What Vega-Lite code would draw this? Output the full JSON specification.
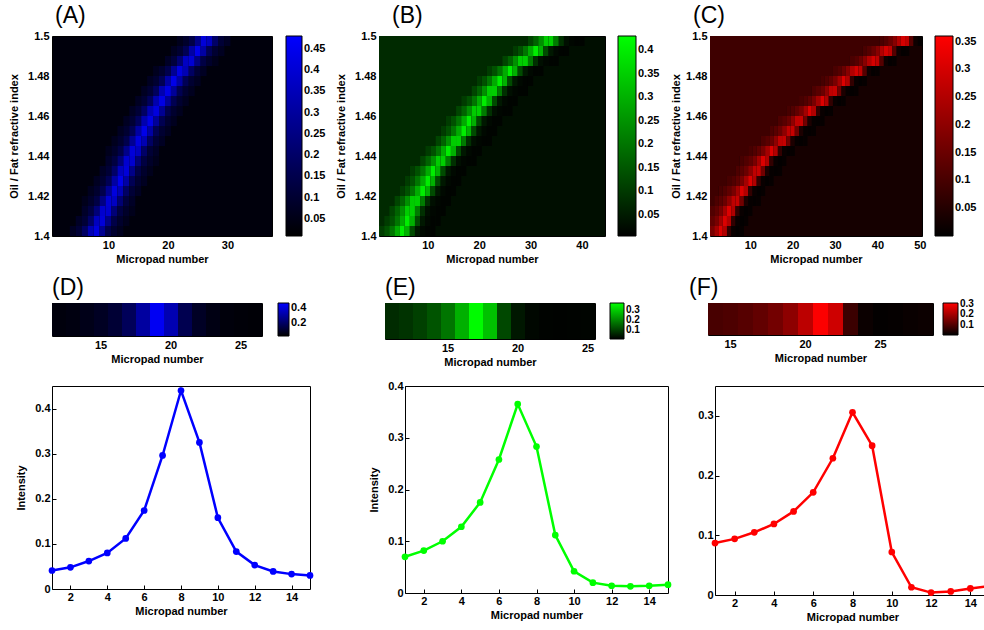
{
  "$schema": "https://vega.github.io/schema/vega-lite/v6.json",
  "padding": {"left": 8, "top": 4, "right": 0, "bottom": 0},
  "background": "white",
  "datasets": {
    "A": [
      {"y": 1.400, "y2": 1.405, "x": [3.5,4.5,5.5,6.5,7.5,8.5,9.5,10.5,11.5], "x2": [4.5,5.5,6.5,7.5,8.5,9.5,10.5,11.5,12.5], "v": [0.075,0.11,0.19,0.34,0.42,0.28,0.15,0.095,0.065]},
      {"y": 1.405, "y2": 1.410, "x": [4.5,5.5,6.5,7.5,8.5,9.5,10.5,11.5,12.5], "x2": [5.5,6.5,7.5,8.5,9.5,10.5,11.5,12.5,13.5], "v": [0.078,0.11,0.2,0.36,0.41,0.26,0.14,0.092,0.062]},
      {"y": 1.410, "y2": 1.415, "x": [5.5,6.5,7.5,8.5,9.5,10.5,11.5,12.5,13.5], "x2": [6.5,7.5,8.5,9.5,10.5,11.5,12.5,13.5,14.5], "v": [0.085,0.13,0.23,0.39,0.39,0.23,0.13,0.085,0.06]},
      {"y": 1.415, "y2": 1.420, "x": [5.5,6.5,7.5,8.5,9.5,10.5,11.5,12.5,13.5], "x2": [6.5,7.5,8.5,9.5,10.5,11.5,12.5,13.5,14.5], "v": [0.06,0.09,0.135,0.25,0.4,0.37,0.22,0.12,0.08]},
      {"y": 1.420, "y2": 1.425, "x": [6.5,7.5,8.5,9.5,10.5,11.5,12.5,13.5,14.5], "x2": [7.5,8.5,9.5,10.5,11.5,12.5,13.5,14.5,15.5], "v": [0.065,0.095,0.15,0.28,0.42,0.34,0.19,0.11,0.075]},
      {"y": 1.425, "y2": 1.430, "x": [7.5,8.5,9.5,10.5,11.5,12.5,13.5,14.5,15.5], "x2": [8.5,9.5,10.5,11.5,12.5,13.5,14.5,15.5,16.5], "v": [0.07,0.1,0.165,0.31,0.44,0.31,0.165,0.1,0.07]},
      {"y": 1.430, "y2": 1.435, "x": [8.5,9.5,10.5,11.5,12.5,13.5,14.5,15.5,16.5], "x2": [9.5,10.5,11.5,12.5,13.5,14.5,15.5,16.5,17.5], "v": [0.078,0.11,0.2,0.36,0.41,0.26,0.14,0.092,0.062]},
      {"y": 1.435, "y2": 1.440, "x": [9.5,10.5,11.5,12.5,13.5,14.5,15.5,16.5,17.5], "x2": [10.5,11.5,12.5,13.5,14.5,15.5,16.5,17.5,18.5], "v": [0.085,0.13,0.23,0.39,0.39,0.23,0.13,0.085,0.06]},
      {"y": 1.440, "y2": 1.445, "x": [9.5,10.5,11.5,12.5,13.5,14.5,15.5,16.5,17.5], "x2": [10.5,11.5,12.5,13.5,14.5,15.5,16.5,17.5,18.5], "v": [0.062,0.092,0.14,0.26,0.41,0.36,0.2,0.11,0.078]},
      {"y": 1.445, "y2": 1.450, "x": [10.5,11.5,12.5,13.5,14.5,15.5,16.5,17.5,18.5], "x2": [11.5,12.5,13.5,14.5,15.5,16.5,17.5,18.5,19.5], "v": [0.065,0.095,0.15,0.28,0.42,0.34,0.19,0.11,0.075]},
      {"y": 1.450, "y2": 1.455, "x": [11.5,12.5,13.5,14.5,15.5,16.5,17.5,18.5,19.5], "x2": [12.5,13.5,14.5,15.5,16.5,17.5,18.5,19.5,20.5], "v": [0.07,0.1,0.165,0.31,0.44,0.31,0.165,0.1,0.07]},
      {"y": 1.455, "y2": 1.460, "x": [12.5,13.5,14.5,15.5,16.5,17.5,18.5,19.5,20.5], "x2": [13.5,14.5,15.5,16.5,17.5,18.5,19.5,20.5,21.5], "v": [0.072,0.105,0.18,0.33,0.43,0.29,0.16,0.098,0.068]},
      {"y": 1.460, "y2": 1.465, "x": [13.5,14.5,15.5,16.5,17.5,18.5,19.5,20.5,21.5], "x2": [14.5,15.5,16.5,17.5,18.5,19.5,20.5,21.5,22.5], "v": [0.075,0.11,0.19,0.34,0.42,0.28,0.15,0.095,0.065]},
      {"y": 1.465, "y2": 1.470, "x": [14.5,15.5,16.5,17.5,18.5,19.5,20.5,21.5,22.5], "x2": [15.5,16.5,17.5,18.5,19.5,20.5,21.5,22.5,23.5], "v": [0.072,0.105,0.18,0.33,0.43,0.29,0.16,0.098,0.068]},
      {"y": 1.470, "y2": 1.475, "x": [15.5,16.5,17.5,18.5,19.5,20.5,21.5,22.5,23.5], "x2": [16.5,17.5,18.5,19.5,20.5,21.5,22.5,23.5,24.5], "v": [0.072,0.105,0.18,0.33,0.43,0.29,0.16,0.098,0.068]},
      {"y": 1.475, "y2": 1.480, "x": [16.5,17.5,18.5,19.5,20.5,21.5,22.5,23.5,24.5], "x2": [17.5,18.5,19.5,20.5,21.5,22.5,23.5,24.5,25.5], "v": [0.07,0.1,0.165,0.31,0.44,0.31,0.165,0.1,0.07]},
      {"y": 1.480, "y2": 1.485, "x": [17.5,18.5,19.5,20.5,21.5,22.5,23.5,24.5,25.5], "x2": [18.5,19.5,20.5,21.5,22.5,23.5,24.5,25.5,26.5], "v": [0.065,0.095,0.15,0.28,0.42,0.34,0.19,0.11,0.075]},
      {"y": 1.485, "y2": 1.490, "x": [19.5,20.5,21.5,22.5,23.5,24.5,25.5,26.5,27.5], "x2": [20.5,21.5,22.5,23.5,24.5,25.5,26.5,27.5,28.5], "v": [0.08,0.12,0.22,0.37,0.4,0.25,0.135,0.09,0.06]},
      {"y": 1.490, "y2": 1.495, "x": [20.5,21.5,22.5,23.5,24.5,25.5,26.5,27.5,28.5], "x2": [21.5,22.5,23.5,24.5,25.5,26.5,27.5,28.5,29.5], "v": [0.07,0.1,0.165,0.31,0.44,0.31,0.165,0.1,0.07]},
      {"y": 1.495, "y2": 1.500, "x": [21.5,22.5,23.5,24.5,25.5,26.5,27.5,28.5,29.5], "x2": [22.5,23.5,24.5,25.5,26.5,27.5,28.5,29.5,30.5], "v": [0.062,0.092,0.14,0.26,0.41,0.36,0.2,0.11,0.078]}
    ],
    "B": [
      {"y": 1.400, "y2": 1.405, "x": [0.5,1.5,2.5,3.5,4.5,5.5,6.5,7.5,8.5,9.5,10.5], "x2": [1.5,2.5,3.5,4.5,5.5,6.5,7.5,8.5,9.5,10.5,11.5], "v": [0.105,0.14,0.2,0.29,0.4,0.3,0.13,0.045,0.02,0.012,0.012]},
      {"y": 1.405, "y2": 1.410, "x": [0.5,1.5,2.5,3.5,4.5,5.5,6.5,7.5,8.5,9.5,10.5,11.5], "x2": [1.5,2.5,3.5,4.5,5.5,6.5,7.5,8.5,9.5,10.5,11.5,12.5], "v": [0.075,0.105,0.14,0.2,0.29,0.4,0.3,0.13,0.045,0.02,0.012,0.012]},
      {"y": 1.410, "y2": 1.415, "x": [0.5,2.5,3.5,4.5,5.5,6.5,7.5,8.5,9.5,10.5,11.5,12.5], "x2": [2.5,3.5,4.5,5.5,6.5,7.5,8.5,9.5,10.5,11.5,12.5,13.5], "v": [0.075,0.12,0.17,0.245,0.345,0.35,0.21,0.085,0.03,0.016,0.012,0.012]},
      {"y": 1.415, "y2": 1.420, "x": [0.5,3.5,4.5,5.5,6.5,7.5,8.5,9.5,10.5,11.5,12.5,13.5], "x2": [3.5,4.5,5.5,6.5,7.5,8.5,9.5,10.5,11.5,12.5,13.5,14.5], "v": [0.075,0.12,0.17,0.245,0.345,0.35,0.21,0.085,0.03,0.016,0.012,0.012]},
      {"y": 1.420, "y2": 1.425, "x": [0.5,4.5,5.5,6.5,7.5,8.5,9.5,10.5,11.5,12.5,13.5,14.5], "x2": [4.5,5.5,6.5,7.5,8.5,9.5,10.5,11.5,12.5,13.5,14.5,15.5], "v": [0.075,0.105,0.14,0.2,0.29,0.4,0.3,0.13,0.045,0.02,0.012,0.012]},
      {"y": 1.425, "y2": 1.430, "x": [0.5,5.5,6.5,7.5,8.5,9.5,10.5,11.5,12.5,13.5,14.5,15.5], "x2": [5.5,6.5,7.5,8.5,9.5,10.5,11.5,12.5,13.5,14.5,15.5,16.5], "v": [0.075,0.105,0.14,0.2,0.29,0.4,0.3,0.13,0.045,0.02,0.012,0.012]},
      {"y": 1.430, "y2": 1.435, "x": [0.5,6.5,7.5,8.5,9.5,10.5,11.5,12.5,13.5,14.5,15.5,16.5], "x2": [6.5,7.5,8.5,9.5,10.5,11.5,12.5,13.5,14.5,15.5,16.5,17.5], "v": [0.075,0.105,0.14,0.2,0.29,0.4,0.3,0.13,0.045,0.02,0.012,0.012]},
      {"y": 1.435, "y2": 1.440, "x": [0.5,8.5,9.5,10.5,11.5,12.5,13.5,14.5,15.5,16.5,17.5,18.5], "x2": [8.5,9.5,10.5,11.5,12.5,13.5,14.5,15.5,16.5,17.5,18.5,19.5], "v": [0.075,0.12,0.17,0.245,0.345,0.35,0.21,0.085,0.03,0.016,0.012,0.012]},
      {"y": 1.440, "y2": 1.445, "x": [0.5,9.5,10.5,11.5,12.5,13.5,14.5,15.5,16.5,17.5,18.5,19.5], "x2": [9.5,10.5,11.5,12.5,13.5,14.5,15.5,16.5,17.5,18.5,19.5,20.5], "v": [0.075,0.105,0.14,0.2,0.29,0.4,0.3,0.13,0.045,0.02,0.012,0.012]},
      {"y": 1.445, "y2": 1.450, "x": [0.5,11.5,12.5,13.5,14.5,15.5,16.5,17.5,18.5,19.5,20.5,21.5], "x2": [11.5,12.5,13.5,14.5,15.5,16.5,17.5,18.5,19.5,20.5,21.5,22.5], "v": [0.075,0.12,0.17,0.245,0.345,0.35,0.21,0.085,0.03,0.016,0.012,0.012]},
      {"y": 1.450, "y2": 1.455, "x": [0.5,12.5,13.5,14.5,15.5,16.5,17.5,18.5,19.5,20.5,21.5,22.5], "x2": [12.5,13.5,14.5,15.5,16.5,17.5,18.5,19.5,20.5,21.5,22.5,23.5], "v": [0.075,0.105,0.14,0.2,0.29,0.4,0.3,0.13,0.045,0.02,0.012,0.012]},
      {"y": 1.455, "y2": 1.460, "x": [0.5,13.5,14.5,15.5,16.5,17.5,18.5,19.5,20.5,21.5,22.5,23.5], "x2": [13.5,14.5,15.5,16.5,17.5,18.5,19.5,20.5,21.5,22.5,23.5,24.5], "v": [0.075,0.105,0.14,0.2,0.29,0.4,0.3,0.13,0.045,0.02,0.012,0.012]},
      {"y": 1.460, "y2": 1.465, "x": [0.5,15.5,16.5,17.5,18.5,19.5,20.5,21.5,22.5,23.5,24.5,25.5], "x2": [15.5,16.5,17.5,18.5,19.5,20.5,21.5,22.5,23.5,24.5,25.5,26.5], "v": [0.075,0.12,0.17,0.245,0.345,0.35,0.21,0.085,0.03,0.016,0.012,0.012]},
      {"y": 1.465, "y2": 1.470, "x": [0.5,16.5,17.5,18.5,19.5,20.5,21.5,22.5,23.5,24.5,25.5,26.5], "x2": [16.5,17.5,18.5,19.5,20.5,21.5,22.5,23.5,24.5,25.5,26.5,27.5], "v": [0.075,0.105,0.14,0.2,0.29,0.4,0.3,0.13,0.045,0.02,0.012,0.012]},
      {"y": 1.470, "y2": 1.475, "x": [0.5,18.5,19.5,20.5,21.5,22.5,23.5,24.5,25.5,26.5,27.5,28.5], "x2": [18.5,19.5,20.5,21.5,22.5,23.5,24.5,25.5,26.5,27.5,28.5,29.5], "v": [0.075,0.12,0.17,0.245,0.345,0.35,0.21,0.085,0.03,0.016,0.012,0.012]},
      {"y": 1.475, "y2": 1.480, "x": [0.5,19.5,20.5,21.5,22.5,23.5,24.5,25.5,26.5,27.5,28.5,29.5], "x2": [19.5,20.5,21.5,22.5,23.5,24.5,25.5,26.5,27.5,28.5,29.5,30.5], "v": [0.075,0.105,0.14,0.2,0.29,0.4,0.3,0.13,0.045,0.02,0.012,0.012]},
      {"y": 1.480, "y2": 1.485, "x": [0.5,21.5,22.5,23.5,24.5,25.5,26.5,27.5,28.5,29.5,30.5,31.5], "x2": [21.5,22.5,23.5,24.5,25.5,26.5,27.5,28.5,29.5,30.5,31.5,32.5], "v": [0.075,0.105,0.14,0.2,0.29,0.4,0.3,0.13,0.045,0.02,0.012,0.012]},
      {"y": 1.485, "y2": 1.490, "x": [0.5,24.5,25.5,26.5,27.5,28.5,29.5,30.5,31.5,32.5,33.5,34.5], "x2": [24.5,25.5,26.5,27.5,28.5,29.5,30.5,31.5,32.5,33.5,34.5,35.5], "v": [0.075,0.12,0.17,0.245,0.345,0.35,0.21,0.085,0.03,0.016,0.012,0.012]},
      {"y": 1.490, "y2": 1.495, "x": [0.5,26.5,27.5,28.5,29.5,30.5,31.5,32.5,33.5,34.5,35.5,36.5], "x2": [26.5,27.5,28.5,29.5,30.5,31.5,32.5,33.5,34.5,35.5,36.5,37.5], "v": [0.075,0.105,0.14,0.2,0.29,0.4,0.3,0.13,0.045,0.02,0.012,0.012]},
      {"y": 1.495, "y2": 1.500, "x": [0.5,29.5,30.5,31.5,32.5,33.5,34.5,35.5,36.5,37.5,38.5,39.5], "x2": [29.5,30.5,31.5,32.5,33.5,34.5,35.5,36.5,37.5,38.5,39.5,40.5], "v": [0.075,0.12,0.17,0.245,0.345,0.35,0.21,0.085,0.03,0.016,0.012,0.012]}
    ],
    "C": [
      {"y": 1.400, "y2": 1.405, "x": [-2.5,-1.5,-0.5,0.5,1.5,2.5,3.5,4.5,5.5,6.5,7.5], "x2": [-1.5,-0.5,0.5,1.5,2.5,3.5,4.5,5.5,6.5,7.5,8.5], "v": [0.1,0.115,0.135,0.17,0.23,0.31,0.25,0.07,0.013,0.004,0.008]},
      {"y": 1.405, "y2": 1.410, "x": [-1.5,-0.5,0.5,1.5,2.5,3.5,4.5,5.5,6.5,7.5,8.5], "x2": [-0.5,0.5,1.5,2.5,3.5,4.5,5.5,6.5,7.5,8.5,9.5], "v": [0.1,0.115,0.135,0.17,0.23,0.31,0.25,0.07,0.013,0.004,0.008]},
      {"y": 1.410, "y2": 1.415, "x": [-0.5,0.5,1.5,2.5,3.5,4.5,5.5,6.5,7.5,8.5,9.5], "x2": [0.5,1.5,2.5,3.5,4.5,5.5,6.5,7.5,8.5,9.5,10.5], "v": [0.1,0.115,0.135,0.17,0.23,0.31,0.25,0.07,0.013,0.004,0.008]},
      {"y": 1.415, "y2": 1.420, "x": [0.5,1.5,2.5,3.5,4.5,5.5,6.5,7.5,8.5,9.5,10.5,11.5], "x2": [1.5,2.5,3.5,4.5,5.5,6.5,7.5,8.5,9.5,10.5,11.5,12.5], "v": [0.088,0.108,0.125,0.15,0.2,0.27,0.28,0.16,0.04,0.008,0.005,0.008]},
      {"y": 1.420, "y2": 1.425, "x": [0.5,2.5,3.5,4.5,5.5,6.5,7.5,8.5,9.5,10.5,11.5,12.5], "x2": [2.5,3.5,4.5,5.5,6.5,7.5,8.5,9.5,10.5,11.5,12.5,13.5], "v": [0.088,0.1,0.115,0.135,0.17,0.23,0.31,0.25,0.07,0.013,0.004,0.008]},
      {"y": 1.425, "y2": 1.430, "x": [0.5,4.5,5.5,6.5,7.5,8.5,9.5,10.5,11.5,12.5,13.5,14.5], "x2": [4.5,5.5,6.5,7.5,8.5,9.5,10.5,11.5,12.5,13.5,14.5,15.5], "v": [0.088,0.1,0.115,0.135,0.17,0.23,0.31,0.25,0.07,0.013,0.004,0.008]},
      {"y": 1.430, "y2": 1.435, "x": [0.5,6.5,7.5,8.5,9.5,10.5,11.5,12.5,13.5,14.5,15.5,16.5], "x2": [6.5,7.5,8.5,9.5,10.5,11.5,12.5,13.5,14.5,15.5,16.5,17.5], "v": [0.088,0.108,0.125,0.15,0.2,0.27,0.28,0.16,0.04,0.008,0.005,0.008]},
      {"y": 1.435, "y2": 1.440, "x": [0.5,7.5,8.5,9.5,10.5,11.5,12.5,13.5,14.5,15.5,16.5,17.5], "x2": [7.5,8.5,9.5,10.5,11.5,12.5,13.5,14.5,15.5,16.5,17.5,18.5], "v": [0.088,0.1,0.115,0.135,0.17,0.23,0.31,0.25,0.07,0.013,0.004,0.008]},
      {"y": 1.440, "y2": 1.445, "x": [0.5,9.5,10.5,11.5,12.5,13.5,14.5,15.5,16.5,17.5,18.5,19.5], "x2": [9.5,10.5,11.5,12.5,13.5,14.5,15.5,16.5,17.5,18.5,19.5,20.5], "v": [0.088,0.1,0.115,0.135,0.17,0.23,0.31,0.25,0.07,0.013,0.004,0.008]},
      {"y": 1.445, "y2": 1.450, "x": [0.5,12.5,13.5,14.5,15.5,16.5,17.5,18.5,19.5,20.5,21.5,22.5], "x2": [12.5,13.5,14.5,15.5,16.5,17.5,18.5,19.5,20.5,21.5,22.5,23.5], "v": [0.088,0.108,0.125,0.15,0.2,0.27,0.28,0.16,0.04,0.008,0.005,0.008]},
      {"y": 1.450, "y2": 1.455, "x": [0.5,14.5,15.5,16.5,17.5,18.5,19.5,20.5,21.5,22.5,23.5,24.5], "x2": [14.5,15.5,16.5,17.5,18.5,19.5,20.5,21.5,22.5,23.5,24.5,25.5], "v": [0.088,0.108,0.125,0.15,0.2,0.27,0.28,0.16,0.04,0.008,0.005,0.008]},
      {"y": 1.455, "y2": 1.460, "x": [0.5,16.5,17.5,18.5,19.5,20.5,21.5,22.5,23.5,24.5,25.5,26.5], "x2": [16.5,17.5,18.5,19.5,20.5,21.5,22.5,23.5,24.5,25.5,26.5,27.5], "v": [0.088,0.108,0.125,0.15,0.2,0.27,0.28,0.16,0.04,0.008,0.005,0.008]},
      {"y": 1.460, "y2": 1.465, "x": [0.5,18.5,19.5,20.5,21.5,22.5,23.5,24.5,25.5,26.5,27.5,28.5], "x2": [18.5,19.5,20.5,21.5,22.5,23.5,24.5,25.5,26.5,27.5,28.5,29.5], "v": [0.088,0.1,0.115,0.135,0.17,0.23,0.31,0.25,0.07,0.013,0.004,0.008]},
      {"y": 1.465, "y2": 1.470, "x": [0.5,21.5,22.5,23.5,24.5,25.5,26.5,27.5,28.5,29.5,30.5,31.5], "x2": [21.5,22.5,23.5,24.5,25.5,26.5,27.5,28.5,29.5,30.5,31.5,32.5], "v": [0.088,0.1,0.115,0.135,0.17,0.23,0.31,0.25,0.07,0.013,0.004,0.008]},
      {"y": 1.470, "y2": 1.475, "x": [0.5,24.5,25.5,26.5,27.5,28.5,29.5,30.5,31.5,32.5,33.5,34.5], "x2": [24.5,25.5,26.5,27.5,28.5,29.5,30.5,31.5,32.5,33.5,34.5,35.5], "v": [0.088,0.108,0.125,0.15,0.2,0.27,0.28,0.16,0.04,0.008,0.005,0.008]},
      {"y": 1.475, "y2": 1.480, "x": [0.5,26.5,27.5,28.5,29.5,30.5,31.5,32.5,33.5,34.5,35.5,36.5], "x2": [26.5,27.5,28.5,29.5,30.5,31.5,32.5,33.5,34.5,35.5,36.5,37.5], "v": [0.088,0.1,0.115,0.135,0.17,0.23,0.31,0.25,0.07,0.013,0.004,0.008]},
      {"y": 1.480, "y2": 1.485, "x": [0.5,29.5,30.5,31.5,32.5,33.5,34.5,35.5,36.5,37.5,38.5,39.5], "x2": [29.5,30.5,31.5,32.5,33.5,34.5,35.5,36.5,37.5,38.5,39.5,40.5], "v": [0.088,0.105,0.12,0.15,0.19,0.25,0.3,0.27,0.12,0.02,0.005,0.008]},
      {"y": 1.485, "y2": 1.490, "x": [0.5,33.5,34.5,35.5,36.5,37.5,38.5,39.5,40.5,41.5,42.5,43.5], "x2": [33.5,34.5,35.5,36.5,37.5,38.5,39.5,40.5,41.5,42.5,43.5,44.5], "v": [0.088,0.105,0.12,0.15,0.19,0.25,0.3,0.27,0.12,0.02,0.005,0.008]},
      {"y": 1.490, "y2": 1.495, "x": [0.5,36.5,37.5,38.5,39.5,40.5,41.5,42.5,43.5,44.5,45.5,46.5], "x2": [36.5,37.5,38.5,39.5,40.5,41.5,42.5,43.5,44.5,45.5,46.5,47.5], "v": [0.088,0.105,0.12,0.15,0.19,0.25,0.3,0.27,0.12,0.02,0.005,0.008]},
      {"y": 1.495, "y2": 1.500, "x": [0.5,40.5,41.5,42.5,43.5,44.5,45.5,46.5,47.5,48.5,49.5,50.5], "x2": [40.5,41.5,42.5,43.5,44.5,45.5,46.5,47.5,48.5,49.5,50.5,51.5], "v": [0.088,0.105,0.12,0.15,0.19,0.25,0.3,0.27,0.12,0.02,0.005,0.008]}
    ],
    "L": [
      {"panel": "D", "n": 1, "pad": 12, "v": 0.041},
      {"panel": "D", "n": 2, "pad": 13, "v": 0.048},
      {"panel": "D", "n": 3, "pad": 14, "v": 0.062},
      {"panel": "D", "n": 4, "pad": 15, "v": 0.080},
      {"panel": "D", "n": 5, "pad": 16, "v": 0.112},
      {"panel": "D", "n": 6, "pad": 17, "v": 0.174},
      {"panel": "D", "n": 7, "pad": 18, "v": 0.296},
      {"panel": "D", "n": 8, "pad": 19, "v": 0.440},
      {"panel": "D", "n": 9, "pad": 20, "v": 0.325},
      {"panel": "D", "n": 10, "pad": 21, "v": 0.158},
      {"panel": "D", "n": 11, "pad": 22, "v": 0.083},
      {"panel": "D", "n": 12, "pad": 23, "v": 0.053},
      {"panel": "D", "n": 13, "pad": 24, "v": 0.039},
      {"panel": "D", "n": 14, "pad": 25, "v": 0.033},
      {"panel": "D", "n": 15, "pad": 26, "v": 0.030},
      {"panel": "E", "n": 1, "pad": 11, "v": 0.070},
      {"panel": "E", "n": 2, "pad": 12, "v": 0.082},
      {"panel": "E", "n": 3, "pad": 13, "v": 0.100},
      {"panel": "E", "n": 4, "pad": 14, "v": 0.128},
      {"panel": "E", "n": 5, "pad": 15, "v": 0.175},
      {"panel": "E", "n": 6, "pad": 16, "v": 0.258},
      {"panel": "E", "n": 7, "pad": 17, "v": 0.365},
      {"panel": "E", "n": 8, "pad": 18, "v": 0.283},
      {"panel": "E", "n": 9, "pad": 19, "v": 0.112},
      {"panel": "E", "n": 10, "pad": 20, "v": 0.042},
      {"panel": "E", "n": 11, "pad": 21, "v": 0.020},
      {"panel": "E", "n": 12, "pad": 22, "v": 0.014},
      {"panel": "E", "n": 13, "pad": 23, "v": 0.013},
      {"panel": "E", "n": 14, "pad": 24, "v": 0.014},
      {"panel": "E", "n": 15, "pad": 25, "v": 0.016},
      {"panel": "F", "n": 1, "pad": 14, "v": 0.087},
      {"panel": "F", "n": 2, "pad": 15, "v": 0.094},
      {"panel": "F", "n": 3, "pad": 16, "v": 0.105},
      {"panel": "F", "n": 4, "pad": 17, "v": 0.119},
      {"panel": "F", "n": 5, "pad": 18, "v": 0.140},
      {"panel": "F", "n": 6, "pad": 19, "v": 0.172},
      {"panel": "F", "n": 7, "pad": 20, "v": 0.229},
      {"panel": "F", "n": 8, "pad": 21, "v": 0.306},
      {"panel": "F", "n": 9, "pad": 22, "v": 0.250},
      {"panel": "F", "n": 10, "pad": 23, "v": 0.072},
      {"panel": "F", "n": 11, "pad": 24, "v": 0.013},
      {"panel": "F", "n": 12, "pad": 25, "v": 0.004},
      {"panel": "F", "n": 13, "pad": 26, "v": 0.006},
      {"panel": "F", "n": 14, "pad": 27, "v": 0.011},
      {"panel": "F", "n": 15, "pad": 28, "v": 0.015}
    ]
  },
  "config": {
    "font": "Liberation Sans",
    "view": {"stroke": "#000000", "strokeWidth": 1},
    "axis": {
      "labelFont": "Liberation Sans", "labelFontSize": 11, "labelFontWeight": "bold", "labelColor": "#000000",
      "titleFont": "Liberation Sans", "titleFontSize": 11, "titleFontWeight": "bold", "titleColor": "#000000",
      "domain": false, "grid": false, "tickColor": "#000000", "tickSize": -4, "labelPadding": 6, "titlePadding": 3
    },
    "axisY": {"titlePadding": 8},
    "legend": {
      "padding": 0, "labelFont": "Liberation Sans", "labelFontSize": 11, "labelFontWeight": "bold", "labelColor": "#000000",
      "gradientStrokeColor": "#000000", "gradientStrokeWidth": 1, "labelOverlap": false, "labelOffset": 3
    },
    "title": {"font": "Liberation Sans", "fontSize": 23, "fontWeight": "normal", "anchor": "start", "frame": "group", "offset": 2, "color": "#000000"}
  },
  "spacing": 11,
  "vconcat": [
    {
      "spacing": 8,
      "resolve": {"scale": {"color": "independent"}, "legend": {"color": "independent"}},
      "hconcat": [
        {
          "title": {"text": "(A)", "dx": 3},
          "width": 220, "height": 200,
          "view": {"fill": "#00000c"},
          "data": {"name": "A"},
          "transform": [{"flatten": ["x", "x2", "v"]}],
          "mark": {"type": "rect", "clip": true},
          "encoding": {
            "x": {"field": "x", "type": "quantitative",
                  "scale": {"domain": [0.5, 37.5], "nice": false, "zero": false},
                  "axis": {"values": [10, 20, 30], "title": "Micropad number", "ticks": false, "labelPadding": 3}},
            "x2": {"field": "x2"},
            "y": {"field": "y", "type": "quantitative",
                  "scale": {"domain": [1.4, 1.5], "nice": false, "zero": false},
                  "axis": {"values": [1.4, 1.42, 1.44, 1.46, 1.48, 1.5], "format": "~g", "title": "Oil / Fat refractive index", "ticks": false, "labelPadding": 3}},
            "y2": {"field": "y2"},
            "color": {"field": "v", "type": "quantitative",
                      "scale": {"domain": [0.01, 0.48], "range": ["#000000", "#0000ff"], "interpolate": "rgb", "nice": false, "clamp": true},
                      "legend": {"title": null, "values": [0.05, 0.1, 0.15, 0.2, 0.25, 0.3, 0.35, 0.4, 0.45], "format": ".2~f", "gradientLength": 200, "gradientThickness": 16, "offset": 14}}
          }
        },
        {
          "spacing": 9,
          "resolve": {"scale": {"color": "independent"}, "legend": {"color": "independent"}},
          "hconcat": [
            {
              "title": {"text": "(B)", "dx": 13},
              "width": 226, "height": 200,
              "view": {"fill": "#000e00"},
              "data": {"name": "B"},
              "transform": [{"flatten": ["x", "x2", "v"]}],
              "mark": {"type": "rect", "clip": true},
              "encoding": {
                "x": {"field": "x", "type": "quantitative",
                      "scale": {"domain": [0.5, 44.5], "nice": false, "zero": false},
                      "axis": {"values": [10, 20, 30, 40], "title": "Micropad number", "ticks": false, "labelPadding": 3}},
                "x2": {"field": "x2"},
                "y": {"field": "y", "type": "quantitative",
                      "scale": {"domain": [1.4, 1.5], "nice": false, "zero": false},
                      "axis": {"values": [1.4, 1.42, 1.44, 1.46, 1.48, 1.5], "format": "~g", "title": "Oil / Fat refractive index", "ticks": false, "labelPadding": 3}},
                "y2": {"field": "y2"},
                "color": {"field": "v", "type": "quantitative",
                          "scale": {"domain": [0.005, 0.43], "range": ["#000000", "#00ff00"], "interpolate": "rgb", "nice": false, "clamp": true},
                          "legend": {"title": null, "values": [0.05, 0.1, 0.15, 0.2, 0.25, 0.3, 0.35, 0.4], "format": ".2~f", "gradientLength": 200, "gradientThickness": 18, "offset": 13}}
              }
            },
            {
              "title": {"text": "(C)", "dx": -17},
              "width": 212, "height": 200,
              "view": {"fill": "#150000"},
              "data": {"name": "C"},
              "transform": [{"flatten": ["x", "x2", "v"]}],
              "mark": {"type": "rect", "clip": true},
              "encoding": {
                "x": {"field": "x", "type": "quantitative",
                      "scale": {"domain": [0.5, 50.5], "nice": false, "zero": false},
                      "axis": {"values": [10, 20, 30, 40, 50], "title": "Micropad number", "ticks": false, "labelPadding": 3}},
                "x2": {"field": "x2"},
                "y": {"field": "y", "type": "quantitative",
                      "scale": {"domain": [1.4, 1.5], "nice": false, "zero": false},
                      "axis": {"values": [1.4, 1.42, 1.44, 1.46, 1.48, 1.5], "format": "~g", "title": "Oil / Fat refractive index", "ticks": false, "labelPadding": 3, "titlePadding": 4}},
                "y2": {"field": "y2"},
                "color": {"field": "v", "type": "quantitative",
                          "scale": {"domain": [0.0, 0.36], "range": ["#000000", "#ff0000"], "interpolate": "rgb", "nice": false, "clamp": true},
                          "legend": {"title": null, "values": [0.05, 0.1, 0.15, 0.2, 0.25, 0.3, 0.35], "format": ".2~f", "gradientLength": 200, "gradientThickness": 18, "offset": 13}}
              }
            }
          ]
        }
      ]
    },
    {
      "spacing": 76,
      "resolve": {"scale": {"color": "independent"}, "legend": {"color": "independent"}},
      "hconcat": [
        {
          "title": {"text": "(D)", "dx": 0, "offset": 3},
          "width": 210, "height": 33,
          "data": {"name": "L"},
          "transform": [{"filter": "datum.panel === 'D'"}],
          "mark": "rect",
          "encoding": {
            "x": {"field": "pad", "type": "ordinal",
                  "scale": {"domain": [12,13,14,15,16,17,18,19,20,21,22,23,24,25,26], "paddingInner": 0, "paddingOuter": 0},
                  "axis": {"values": [15, 20, 25], "labelAngle": 0, "title": "Micropad number", "ticks": false, "labelPadding": 3}},
            "color": {"field": "v", "type": "quantitative",
                      "scale": {"domain": [0.02, 0.46], "range": ["#000000", "#0000ff"], "interpolate": "rgb", "nice": false, "clamp": true},
                      "legend": {"title": null, "values": [0.2, 0.4], "format": ".1~f", "gradientLength": 33, "gradientThickness": 11, "offset": 16}}
          }
        },
        {
          "spacing": 47,
          "resolve": {"scale": {"color": "independent"}, "legend": {"color": "independent"}},
          "hconcat": [
            {
              "title": {"text": "(E)", "dx": 0, "offset": 3},
              "width": 210, "height": 36,
              "data": {"name": "L"},
              "transform": [{"filter": "datum.panel === 'E'"}],
              "mark": "rect",
              "encoding": {
                "x": {"field": "pad", "type": "ordinal",
                      "scale": {"domain": [11,12,13,14,15,16,17,18,19,20,21,22,23,24,25], "paddingInner": 0, "paddingOuter": 0},
                      "axis": {"values": [15, 20, 25], "labelAngle": 0, "title": "Micropad number", "ticks": false, "labelPadding": 3}},
                "color": {"field": "v", "type": "quantitative",
                          "scale": {"domain": [0.01, 0.37], "range": ["#000000", "#00ff00"], "interpolate": "rgb", "nice": false, "clamp": true},
                          "legend": {"title": null, "values": [0.1, 0.2, 0.3], "format": ".1~f", "gradientLength": 36, "gradientThickness": 14, "offset": 15, "labelFontSize": 10}}
              }
            },
            {
              "title": {"text": "(F)", "dx": -19, "offset": 3},
              "width": 225, "height": 32,
              "data": {"name": "L"},
              "transform": [{"filter": "datum.panel === 'F'"}],
              "mark": "rect",
              "encoding": {
                "x": {"field": "pad", "type": "ordinal",
                      "scale": {"domain": [14,15,16,17,18,19,20,21,22,23,24,25,26,27,28], "paddingInner": 0, "paddingOuter": 0},
                      "axis": {"values": [15, 20, 25], "labelAngle": 0, "title": "Micropad number", "ticks": false, "labelPadding": 3}},
                "color": {"field": "v", "type": "quantitative",
                          "scale": {"domain": [0.0, 0.31], "range": ["#000000", "#ff0000"], "interpolate": "rgb", "nice": false, "clamp": true},
                          "legend": {"title": null, "values": [0.1, 0.2, 0.3], "format": ".1~f", "gradientLength": 32, "gradientThickness": 15, "offset": 10, "labelFontSize": 10}}
              }
            }
          ]
        }
      ]
    },
    {
      "spacing": 52,
      "hconcat": [
        {
          "width": 258, "height": 203,
          "data": {"name": "L"},
          "transform": [{"filter": "datum.panel === 'D'"}],
          "mark": {"type": "line", "color": "#0000ff", "strokeWidth": 2.5, "point": {"filled": true, "size": 45, "color": "#0000ff"}},
          "encoding": {
            "x": {"field": "n", "type": "quantitative", "scale": {"domain": [1, 15], "nice": false, "zero": false},
                  "axis": {"values": [2, 4, 6, 8, 10, 12, 14], "title": "Micropad number"}},
            "y": {"field": "v", "type": "quantitative", "scale": {"domain": [0, 0.45], "nice": false},
                  "axis": {"values": [0, 0.1, 0.2, 0.3, 0.4], "format": "~g", "title": "Intensity"}}
          }
        },
        {
          "spacing": 23,
          "hconcat": [
            {
              "width": 263, "height": 207,
              "data": {"name": "L"},
              "transform": [{"filter": "datum.panel === 'E'"}],
              "mark": {"type": "line", "color": "#00ff00", "strokeWidth": 2.5, "point": {"filled": true, "size": 45, "color": "#00ff00"}},
              "encoding": {
                "x": {"field": "n", "type": "quantitative", "scale": {"domain": [1, 15], "nice": false, "zero": false},
                      "axis": {"values": [2, 4, 6, 8, 10, 12, 14], "title": "Micropad number"}},
                "y": {"field": "v", "type": "quantitative", "scale": {"domain": [0, 0.4], "nice": false},
                      "axis": {"values": [0, 0.1, 0.2, 0.3, 0.4], "format": "~g", "title": "Intensity"}}
              }
            },
            {
              "width": 275, "height": 209,
              "data": {"name": "L"},
              "transform": [{"filter": "datum.panel === 'F'"}],
              "mark": {"type": "line", "color": "#ff0000", "strokeWidth": 2.5, "point": {"filled": true, "size": 45, "color": "#ff0000"}},
              "encoding": {
                "x": {"field": "n", "type": "quantitative", "scale": {"domain": [1, 15], "nice": false, "zero": false},
                      "axis": {"values": [2, 4, 6, 8, 10, 12, 14], "title": "Micropad number"}},
                "y": {"field": "v", "type": "quantitative", "scale": {"domain": [0, 0.35], "nice": false},
                      "axis": {"values": [0, 0.1, 0.2, 0.3], "format": "~g", "title": null}}
              }
            }
          ]
        }
      ]
    }
  ]
}
